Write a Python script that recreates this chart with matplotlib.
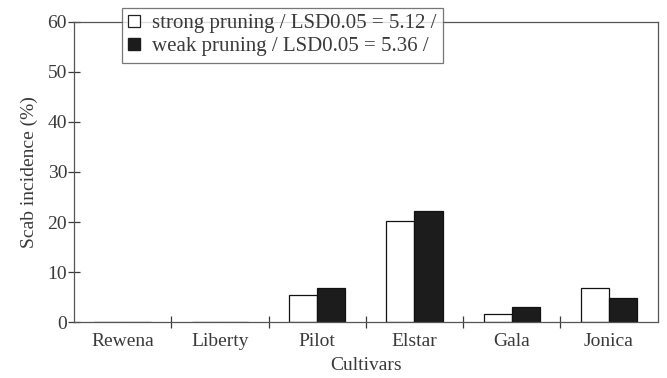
import numpy as np
import matplotlib
matplotlib.use('Agg')
from matplotlib import pyplot as plt
from matplotlib.patches import Patch

cultivars = ['Rewena', 'Liberty', 'Pilot', 'Elstar', 'Gala', 'Jonica']
strong = [0, 0, 5.5, 20.3, 1.6, 6.9]
weak = [0, 0, 6.8, 22.3, 3.0, 4.9]
yticks = [0, 10, 20, 30, 40, 50, 60]
strong_label = 'strong pruning / LSD0.05 = 5.12 /'
weak_label = 'weak pruning / LSD0.05 = 5.36 /'

ink = '#3a3a3a'
plt.rcParams['font.family'] = ['Liberation Serif', 'DejaVu Serif']
plt.rcParams['font.size'] = 14

fig = plt.figure(figsize=(6.67, 3.78), dpi=100)
ax = fig.add_axes([0.111, 0.148, 0.875, 0.794])

x = np.arange(len(cultivars))
w = 0.29
ax.bar(x - w/2, strong, w, color='white', edgecolor='#111111', linewidth=0.9)
ax.bar(x + w/2, weak, w, color='#1c1c1c', edgecolor='#111111', linewidth=0.9)

ax.set_xlim(-0.5, len(cultivars) - 0.5)
ax.set_ylim(0, 60)
ax.set_yticks(yticks)
ax.set_xticks(x, cultivars)
ax.set_xticks(x[:-1] + 0.5, minor=True)
ax.tick_params(axis='x', which='major', length=0, pad=8, colors=ink)
ax.tick_params(axis='x', which='minor', direction='inout', length=8, width=0.9, color=ink)
ax.tick_params(axis='y', direction='inout', length=8, width=0.9, pad=1, colors=ink)
for s in ax.spines.values():
    s.set_color('#555555')
    s.set_linewidth(0.9)

ax.set_ylabel('Scab incidence (%)', color=ink, labelpad=7)
ax.set_xlabel('Cultivars', color=ink, labelpad=5)

handles = [Patch(facecolor='white', edgecolor='#222222', linewidth=0.9),
           Patch(facecolor='#1c1c1c', edgecolor='#1c1c1c')]
leg = fig.legend(handles, [strong_label, weak_label], loc='upper left',
                 bbox_to_anchor=(0.183, 0.979), borderaxespad=0, frameon=True,
                 fancybox=False, fontsize=15, handlelength=0.55, handleheight=0.55,
                 handletextpad=0.6, borderpad=0.3, labelspacing=0.2, labelcolor=ink)
leg.get_frame().set_edgecolor('#555555')
leg.get_frame().set_linewidth(0.9)

fig.savefig('out.png', dpi=100)
